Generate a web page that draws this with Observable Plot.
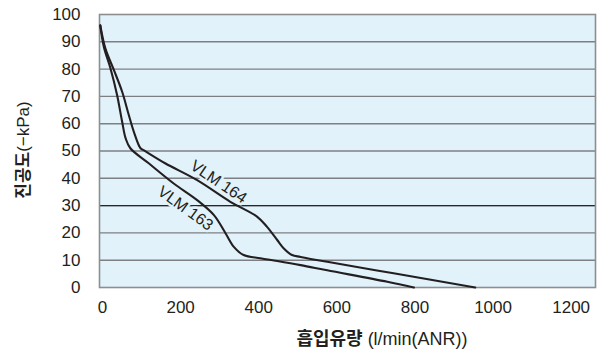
<!DOCTYPE html>
<html><head><meta charset="utf-8">
<script src="https://cdn.jsdelivr.net/npm/d3@7"></script>
<script src="https://cdn.jsdelivr.net/npm/@observablehq/plot@0.6"></script>
<style>body{margin:0;background:#fff}</style>
</head><body><div id="chart"></div>
<script>
// ---- data ----
const xTicks = [0, 200, 400, 600, 800, 1000, 1200];
const yTicks = [0, 10, 20, 30, 40, 50, 60, 70, 80, 90, 100];
const gridLevels = [10, 20, 30, 40, 50, 60, 70, 80, 90];
const darkGridLevel = [30];

const vlm163Flow = [2, 11, 28, 45, 58, 67, 79, 126, 190, 250, 293, 323, 344, 369, 412, 455, 515, 583, 737, 805];
const vlm163Vac  = [96, 88.2, 80.3, 70.5, 60.7, 54.6, 51, 45.5, 38.1, 32, 26.5, 19.8, 14.9, 11.9, 10.7, 9.7, 8.2, 6.3, 2.1, 0];

const vlm164Flow = [2, 15, 37, 58, 75, 88, 105, 113, 168, 250, 335, 404, 429, 455, 472, 493, 515, 583, 753, 962];
const vlm164Vac  = [96, 87.6, 79.6, 71.7, 63.2, 57, 51, 50.3, 45.5, 39.3, 31.4, 25.9, 22.2, 17.4, 14.3, 11.9, 11.2, 9.4, 5.2, 0];

const seriesNames = ["VLM 164", "VLM 163"];
const labelFlow = [305, 220];
const labelVac = [38.7, 29];
const labelAngle = [34, 36];

const xTitleKo = "흡입유량";
const xTitleUnit = " (l/min(ANR))";
const yTitleKo = "진공도";
const yTitleUnit = "(−kPa)";

// ---- build ----
const toRows = (xs, ys) => xs.map((x, i) => ({x, y: ys[i]}));
const s163 = toRows(vlm163Flow, vlm163Vac);
const s164 = toRows(vlm164Flow, vlm164Vac);
const labels = seriesNames.map((t, i) => ({t, x: labelFlow[i], y: labelVac[i], a: labelAngle[i]}));

const bg = "#e1f2fb";
const ink = "#231f20";

const chart = Plot.plot({
  width: 601,
  height: 356,
  marginLeft: 99,
  marginRight: 6,
  marginTop: 14,
  marginBottom: 69,
  style: {fontFamily: "'Liberation Sans', Arial, sans-serif", fontSize: "17px", color: ink, background: "#fff"},
  x: {domain: [0, 1270]},
  y: {domain: [0, 100]},
  marks: [
    Plot.frame({fill: bg, stroke: null}),
    Plot.ruleY(gridLevels, {stroke: "#7d7f82", strokeWidth: 1.4}),
    Plot.ruleY(darkGridLevel, {stroke: "#2a2626", strokeWidth: 1.3}),
    Plot.frame({stroke: "#8c8e90", strokeWidth: 1.6}),
    Plot.line(s164, {x: "x", y: "y", stroke: ink, strokeWidth: 2.1, curve: "catmull-rom"}),
    Plot.line(s163, {x: "x", y: "y", stroke: ink, strokeWidth: 2.1, curve: "catmull-rom"}),
    Plot.text(labels, {x: "x", y: "y", text: "t", rotate: "a", fontSize: 16, fill: ink, stroke: bg, strokeWidth: 5, fontFamily: "'Liberation Sans', Arial, sans-serif"}),
    Plot.axisX({ticks: xTicks, tickFormat: d => String(d), tickSize: 0, tickPadding: 13, dx: 3, fontSize: 17, label: null}),
    Plot.axisY({ticks: yTicks, tickFormat: d => String(d), tickSize: 0, tickPadding: 19, fontSize: 17, label: null})
  ]
});

const svg = d3.select(chart);
const xt = svg.append("text")
  .attr("x", 382).attr("y", 339).attr("dy", "0.35em")
  .attr("text-anchor", "middle").attr("fill", ink).attr("font-size", 18);
xt.append("tspan").attr("font-family", "'Noto Sans CJK KR', sans-serif").attr("font-weight", "bold").text(xTitleKo);
xt.append("tspan").attr("font-family", "'Liberation Sans', Arial, sans-serif").text(xTitleUnit);

const yt = svg.append("text")
  .attr("transform", "translate(23,150) rotate(-90)").attr("dy", "0.35em")
  .attr("text-anchor", "middle").attr("fill", ink).attr("font-size", 17);
yt.append("tspan").attr("font-family", "'Noto Sans CJK KR', sans-serif").attr("font-weight", "bold").text(yTitleKo);
yt.append("tspan").attr("font-family", "'Liberation Sans', Arial, sans-serif").text(yTitleUnit);

document.getElementById("chart").append(chart);
</script>
</body></html>
